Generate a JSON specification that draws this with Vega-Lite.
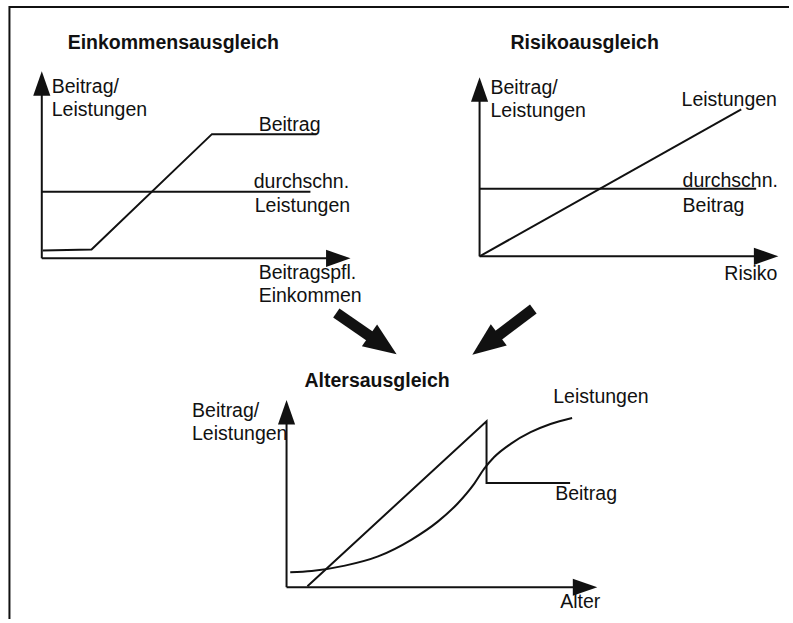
{
  "$schema": "https://vega.github.io/schema/vega-lite/v6.json",
  "width": 793,
  "height": 623,
  "padding": 0,
  "autosize": {"type": "fit", "contains": "padding"},
  "background": "white",
  "config": {"view": {"stroke": null}},
  "datasets": {
    "lines": [
      {"id": "frame", "o": 1, "x": 9.5, "y": 623},
      {"id": "frame", "o": 2, "x": 9.5, "y": 7},
      {"id": "frame", "o": 3, "x": 793, "y": 7},
      {"id": "p1y", "o": 1, "x": 42, "y": 260},
      {"id": "p1y", "o": 2, "x": 42, "y": 90},
      {"id": "p1x", "o": 1, "x": 42, "y": 260},
      {"id": "p1x", "o": 2, "x": 336, "y": 260},
      {"id": "p1b", "o": 1, "x": 43, "y": 252},
      {"id": "p1b", "o": 2, "x": 92, "y": 251},
      {"id": "p1b", "o": 3, "x": 213, "y": 135},
      {"id": "p1b", "o": 4, "x": 318, "y": 135},
      {"id": "p1l", "o": 1, "x": 42, "y": 193},
      {"id": "p1l", "o": 2, "x": 312, "y": 193},
      {"id": "p2y", "o": 1, "x": 482, "y": 258},
      {"id": "p2y", "o": 2, "x": 482, "y": 95},
      {"id": "p2x", "o": 1, "x": 482, "y": 258},
      {"id": "p2x", "o": 2, "x": 766, "y": 258},
      {"id": "p2l", "o": 1, "x": 482, "y": 258},
      {"id": "p2l", "o": 2, "x": 745, "y": 110},
      {"id": "p2b", "o": 1, "x": 482, "y": 190},
      {"id": "p2b", "o": 2, "x": 760, "y": 190},
      {"id": "p3y", "o": 1, "x": 288, "y": 591},
      {"id": "p3y", "o": 2, "x": 288, "y": 420},
      {"id": "p3x", "o": 1, "x": 288, "y": 591},
      {"id": "p3x", "o": 2, "x": 582, "y": 591},
      {"id": "p3b", "o": 1, "x": 309, "y": 590},
      {"id": "p3b", "o": 2, "x": 489, "y": 424},
      {"id": "p3b", "o": 3, "x": 489, "y": 486},
      {"id": "p3b", "o": 4, "x": 573, "y": 486}
    ],
    "curve": [
      {"o": 1, "x": 291.7, "y": 576},
      {"o": 2, "x": 313.3, "y": 574.7},
      {"o": 3, "x": 346.7, "y": 569.3},
      {"o": 4, "x": 380, "y": 560},
      {"o": 5, "x": 413.3, "y": 543.3},
      {"o": 6, "x": 440, "y": 525},
      {"o": 7, "x": 460, "y": 506.7},
      {"o": 8, "x": 476.7, "y": 486.7},
      {"o": 9, "x": 486.7, "y": 471.7},
      {"o": 10, "x": 496.7, "y": 460},
      {"o": 11, "x": 513.3, "y": 446.7},
      {"o": 12, "x": 533.3, "y": 435},
      {"o": 13, "x": 553.3, "y": 426.7},
      {"o": 14, "x": 575, "y": 420.7}
    ],
    "shafts": [
      {"id": "left", "o": 1, "x": 338, "y": 315},
      {"id": "left", "o": 2, "x": 374, "y": 340},
      {"id": "right", "o": 1, "x": 536, "y": 311},
      {"id": "right", "o": 2, "x": 499, "y": 339}
    ],
    "heads": [
      {"dir": "up", "x": 42, "y": 84},
      {"dir": "up", "x": 482, "y": 90},
      {"dir": "up", "x": 288, "y": 415},
      {"dir": "right", "x": 340, "y": 260},
      {"dir": "right", "x": 770, "y": 258},
      {"dir": "right", "x": 588, "y": 591},
      {"dir": "downright", "x": 385, "y": 347},
      {"dir": "downleft", "x": 488, "y": 347}
    ],
    "texts": [
      {"kind": "title", "text": "Einkommensausgleich", "x": 68, "y": 49},
      {"kind": "title", "text": "Risikoausgleich", "x": 513, "y": 49},
      {"kind": "title", "text": "Altersausgleich", "x": 306, "y": 389},
      {"kind": "label", "text": "Beitrag/", "x": 52, "y": 94},
      {"kind": "label", "text": "Leistungen", "x": 52, "y": 117},
      {"kind": "label", "text": "Beitrag", "x": 260, "y": 132},
      {"kind": "label", "text": "durchschn.", "x": 255, "y": 189},
      {"kind": "label", "text": "Leistungen", "x": 256, "y": 213},
      {"kind": "label", "text": "Beitragspfl.", "x": 260, "y": 281},
      {"kind": "label", "text": "Einkommen", "x": 260, "y": 304},
      {"kind": "label", "text": "Beitrag/", "x": 493, "y": 95},
      {"kind": "label", "text": "Leistungen", "x": 493, "y": 118},
      {"kind": "label", "text": "Leistungen", "x": 685, "y": 107},
      {"kind": "label", "text": "durchschn.", "x": 686, "y": 188},
      {"kind": "label", "text": "Beitrag", "x": 686, "y": 213},
      {"kind": "label", "text": "Risiko", "x": 728, "y": 282},
      {"kind": "label", "text": "Beitrag/", "x": 193, "y": 420},
      {"kind": "label", "text": "Leistungen", "x": 193, "y": 443},
      {"kind": "label", "text": "Leistungen", "x": 556, "y": 406},
      {"kind": "label", "text": "Beitrag", "x": 558, "y": 503},
      {"kind": "label", "text": "Alter", "x": 563, "y": 612}
    ]
  },
  "encoding": {
    "x": {"field": "x", "type": "quantitative", "axis": null, "scale": {"domain": [0, 793], "nice": false, "zero": false}},
    "y": {"field": "y", "type": "quantitative", "axis": null, "scale": {"domain": [0, 623], "nice": false, "zero": false, "reverse": true}}
  },
  "layer": [
    {
      "data": {"name": "lines"},
      "mark": {"type": "line", "color": "#111111", "strokeWidth": 2, "strokeJoin": "miter", "clip": false},
      "encoding": {"detail": {"field": "id"}, "order": {"field": "o"}}
    },
    {
      "data": {"name": "curve"},
      "mark": {"type": "line", "color": "#111111", "strokeWidth": 2, "interpolate": "monotone"},
      "encoding": {"order": {"field": "o"}}
    },
    {
      "data": {"name": "shafts"},
      "mark": {"type": "line", "color": "#111111", "strokeWidth": 11, "strokeCap": "butt"},
      "encoding": {"detail": {"field": "id"}, "order": {"field": "o"}}
    },
    {
      "data": {"name": "heads"},
      "transform": [{"filter": "datum.dir === 'up'"}],
      "mark": {"type": "point", "filled": true, "opacity": 1, "color": "#111111", "shape": "M0,-1L0.7,1L-0.7,1Z", "size": 600, "angle": 0}
    },
    {
      "data": {"name": "heads"},
      "transform": [{"filter": "datum.dir === 'right'"}],
      "mark": {"type": "point", "filled": true, "opacity": 1, "color": "#111111", "shape": "M0,-1L0.7,1L-0.7,1Z", "size": 600, "angle": 90}
    },
    {
      "data": {"name": "heads"},
      "transform": [{"filter": "datum.dir === 'downright'"}],
      "mark": {"type": "point", "filled": true, "opacity": 1, "color": "#111111", "shape": "M0,-1L0.8,1L-0.8,1Z", "size": 1100, "angle": 125}
    },
    {
      "data": {"name": "heads"},
      "transform": [{"filter": "datum.dir === 'downleft'"}],
      "mark": {"type": "point", "filled": true, "opacity": 1, "color": "#111111", "shape": "M0,-1L0.8,1L-0.8,1Z", "size": 1100, "angle": 233}
    },
    {
      "data": {"name": "texts"},
      "transform": [{"filter": "datum.kind === 'title'"}],
      "mark": {"type": "text", "align": "left", "baseline": "alphabetic", "font": "Liberation Sans", "fontSize": 19.5, "fontWeight": "bold", "color": "#111111"},
      "encoding": {"text": {"field": "text"}}
    },
    {
      "data": {"name": "texts"},
      "transform": [{"filter": "datum.kind === 'label'"}],
      "mark": {"type": "text", "align": "left", "baseline": "alphabetic", "font": "Liberation Sans", "fontSize": 19.5, "color": "#111111"},
      "encoding": {"text": {"field": "text"}}
    }
  ]
}
